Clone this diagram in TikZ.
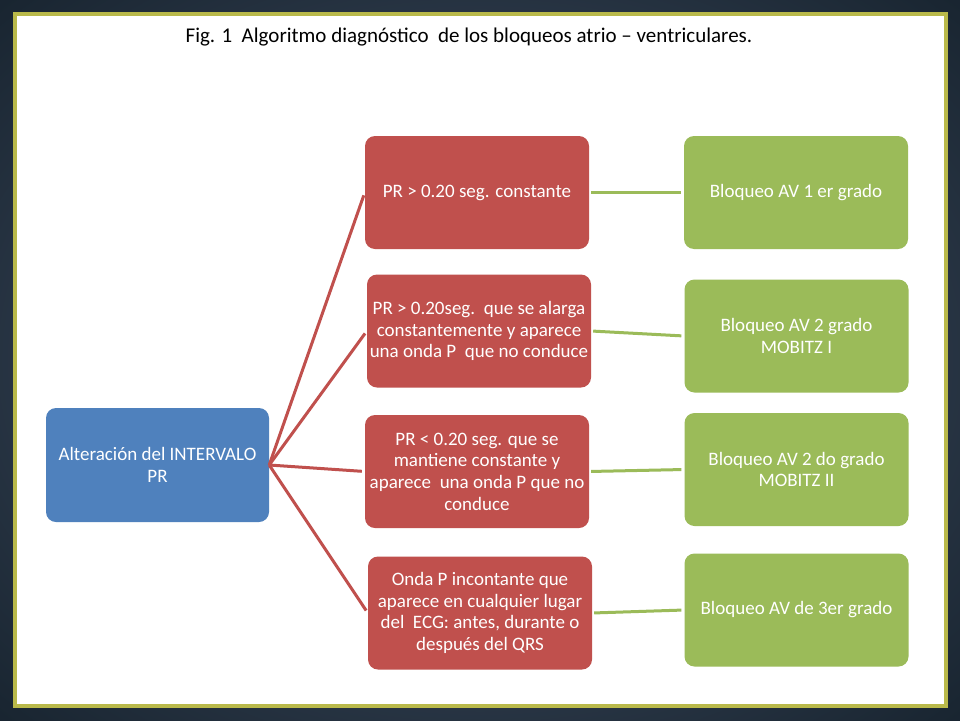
\documentclass[tikz,border=0pt]{standalone}
\usepackage{fontspec}
\setmainfont{Carlito}
\usepackage{tikz}
\usetikzlibrary{positioning}

\definecolor{diagBlue}{HTML}{4F81BD}
\definecolor{diagRed}{HTML}{C0504D}
\definecolor{diagGreen}{HTML}{9BBB59}
\definecolor{slideDark}{HTML}{16222D}
\definecolor{slideMid}{HTML}{46546A}
\definecolor{frameLine}{HTML}{B9B94A}

\begin{document}
\begin{tikzpicture}[x=1pt,y=-1pt]
  \tikzset{alt box/.style={draw=none,fill=#1,rounded corners=10pt,text=white,
      minimum width=224pt,minimum height=113pt,align=center,inner sep=2pt,
      font=\fontsize{19}{21.7}\selectfont},
    red link/.style={draw=diagRed,line width=3pt,shorten >=3pt},
    green link/.style={draw=diagGreen,line width=3pt,shorten <=2pt,shorten >=3pt}}

  \useasboundingbox (0,0) rectangle (960,720);
  \begin{scope}
    \clip (0,0) rectangle (960,720);
    \shade[inner color=slideMid,outer color=slideDark] (-240,-180) rectangle (1200,900);
  \end{scope}
  \draw[frameLine,line width=3.5pt,fill=white] (15,14) rectangle (946,706);

  \node (T) [anchor=base,font=\fontsize{21}{25}\selectfont] at (469,42)
    {Fig. 1\ \ Algoritmo diagnóstico\ \ de los bloqueos atrio – ventriculares.};

  \node (A) [alt box=diagBlue, minimum width=223pt, minimum height=114pt] at (157.5,465)
    {Alteración del INTERVALO\\PR};

  \node (R1) [alt box=diagRed] at (477,192.5) {PR > 0.20 seg. constante};
  \node (R2) [alt box=diagRed] at (479,331)
    {PR > 0.20seg.\ \ que se alarga\\constantemente y aparece\\una onda P\ \ que no conduce};
  \node (R3) [alt box=diagRed] at (477,471.5)
    {PR < 0.20 seg. que se\\mantiene constante y\\aparece\ \ una onda P que no\\conduce};
  \node (R4) [alt box=diagRed] at (480,613)
    {Onda P incontante que\\aparece en cualquier lugar\\del\ \ ECG: antes, durante o\\después del QRS};

  \node (G1) [alt box=diagGreen] at (796,192.5) {Bloqueo AV 1 er grado};
  \node (G2) [alt box=diagGreen] at (796.5,336) {Bloqueo AV 2 grado\\MOBITZ I};
  \node (G3) [alt box=diagGreen] at (796.5,469.5) {Bloqueo AV 2 do grado\\MOBITZ II};
  \node (G4) [alt box=diagGreen] at (796.5,610) {Bloqueo AV de 3er grado};

  \draw[red link] (A.east) -- (R1.west);
  \draw[red link] (A.east) -- (R2.west);
  \draw[red link] (A.east) -- (R3.west);
  \draw[red link] (A.east) -- (R4.west);

  \draw[green link] (R1.east) -- (G1.west);
  \draw[green link] (R2.east) -- (G2.west);
  \draw[green link] (R3.east) -- (G3.west);
  \draw[green link] (R4.east) -- (G4.west);
\end{tikzpicture}
\end{document}
